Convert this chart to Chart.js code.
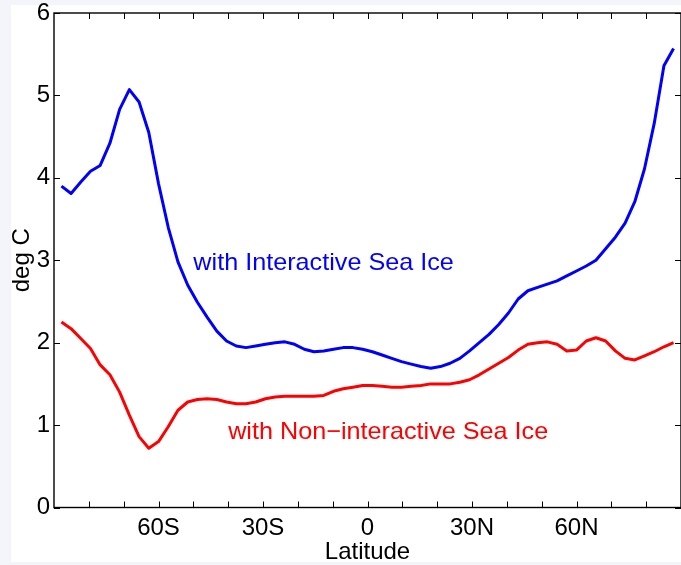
<!DOCTYPE html>
<html>
<head>
<meta charset="utf-8">
<script src="https://cdn.jsdelivr.net/npm/chart.js@4/dist/chart.umd.min.js"></script>
<style>
  html, body { margin: 0; padding: 0; background: #f3f5fb; overflow: hidden; }
  #c { display: block; }
</style>
</head>
<body>
<canvas id="c" width="681" height="565"></canvas>
<script>
// T42 Gaussian latitudes, south to north (degrees)
const latitudes = [
  -87.864, -85.097, -82.313, -79.526, -76.737, -73.948, -71.158, -68.368,
  -65.578, -62.787, -59.997, -57.207, -54.416, -51.626, -48.835, -46.045,
  -43.254, -40.464, -37.673, -34.883, -32.092, -29.301, -26.511, -23.720,
  -20.930, -18.139, -15.348, -12.558, -9.767, -6.977, -4.186, -1.395,
  1.395, 4.186, 6.977, 9.767, 12.558, 15.348, 18.139, 20.930,
  23.720, 26.511, 29.301, 32.092, 34.883, 37.673, 40.464, 43.254,
  46.045, 48.835, 51.626, 54.416, 57.207, 59.997, 62.787, 65.578,
  68.368, 71.158, 73.948, 76.737, 79.526, 82.313, 85.097, 87.864
];

// Zonal-mean warming (deg C), interactive sea ice
const interactiveIce = [
  3.90, 3.81, 3.95, 4.08, 4.15, 4.42, 4.83, 5.07,
  4.92, 4.55, 3.93, 3.40, 2.98, 2.70, 2.49, 2.31,
  2.14, 2.02, 1.96, 1.94, 1.96, 1.98, 2.00, 2.01,
  1.98, 1.92, 1.89, 1.90, 1.92, 1.94, 1.94, 1.92,
  1.89, 1.85, 1.81, 1.77, 1.74, 1.71, 1.69, 1.71,
  1.75, 1.81, 1.90, 2.00, 2.10, 2.22, 2.36, 2.53,
  2.63, 2.67, 2.71, 2.75, 2.81, 2.87, 2.93, 3.00,
  3.14, 3.28, 3.45, 3.71, 4.11, 4.66, 5.36, 5.57
];

// Zonal-mean warming (deg C), non-interactive sea ice
const nonInteractiveIce = [
  2.25, 2.17, 2.05, 1.93, 1.73, 1.61, 1.40, 1.12,
  0.86, 0.72, 0.80, 0.98, 1.18, 1.28, 1.31, 1.32,
  1.31, 1.28, 1.26, 1.26, 1.28, 1.32, 1.34, 1.35,
  1.35, 1.35, 1.35, 1.36, 1.41, 1.44, 1.46, 1.48,
  1.48, 1.47, 1.46, 1.46, 1.47, 1.48, 1.50, 1.50,
  1.50, 1.52, 1.55, 1.61, 1.68, 1.75, 1.82, 1.91,
  1.98, 2.00, 2.01, 1.98, 1.90, 1.91, 2.02, 2.06,
  2.02, 1.90, 1.81, 1.79, 1.84, 1.89, 1.95, 2.00
];

const seriesNames = ['with Interactive Sea Ice', 'with Non\u2212interactive Sea Ice'];
const latTickValues = [-60, -30, 0, 30, 60];
const latTickLabels = ['60S', '30S', '0', '30N', '60N'];
const tempTickValues = [0, 1, 2, 3, 4, 5, 6];

const FONT = { family: '"Liberation Sans", Arial, Helvetica, sans-serif', size: 24 };

// In-plot labels, anchored in data coordinates
const seriesLabels = [
  { text: seriesNames[0], lat: -50.0, value: 2.88, color: '#0000ff' },
  { text: seriesNames[1], lat: -40.0, value: 0.83, color: '#ff0000' }
];
const labelStretch = 1.05;

const figureFrame = {
  id: 'figureFrame',
  beforeDraw(chart) {
    const { ctx, width, height } = chart;
    ctx.save();
    ctx.fillStyle = '#f3f5fb';
    ctx.fillRect(0, 0, width, height);
    ctx.fillStyle = '#ffffff';
    ctx.fillRect(11, 5, width - 11, 557);
    ctx.restore();
  },
  afterDraw(chart) {
    const { ctx, chartArea: a, scales: { x, y } } = chart;
    ctx.save();
    // inward tick marks on all four sides
    ctx.strokeStyle = '#000';
    ctx.lineWidth = 1;
    const tl = 6;
    ctx.beginPath();
    for (let v = x.min + 10; v < x.max; v += 10) {
      const px = Math.round(x.getPixelForValue(v)) + 0.5;
      ctx.moveTo(px, a.bottom); ctx.lineTo(px, a.bottom - tl);
      ctx.moveTo(px, a.top); ctx.lineTo(px, a.top + tl);
    }
    tempTickValues.forEach(v => {
      const py = Math.round(y.getPixelForValue(v)) + 0.5;
      ctx.moveTo(a.left, py); ctx.lineTo(a.left + tl, py);
      ctx.moveTo(a.right, py); ctx.lineTo(a.right - tl, py);
    });
    ctx.stroke();
    // axes box
    ctx.lineWidth = 1.4;
    ctx.strokeRect(a.left, a.top, a.right - a.left, a.bottom - a.top);
    // series labels
    ctx.font = `${FONT.size}px ${FONT.family}`;
    ctx.textAlign = 'left';
    ctx.textBaseline = 'alphabetic';
    seriesLabels.forEach(l => {
      ctx.save();
      ctx.translate(x.getPixelForValue(l.lat), y.getPixelForValue(l.value));
      ctx.scale(labelStretch, 1);
      ctx.fillStyle = l.color;
      ctx.fillText(l.text, 0, 0);
      ctx.restore();
    });
    ctx.restore();
  }
};

Chart.defaults.color = '#000';

new Chart(document.getElementById('c'), {
  type: 'line',
  data: {
    datasets: [
      {
        label: seriesNames[0],
        data: latitudes.map((lat, i) => ({ x: lat, y: interactiveIce[i] })),
        borderColor: '#0000ff',
        borderWidth: 3,
        pointRadius: 0,
        tension: 0,
        borderJoinStyle: 'round',
        fill: false
      },
      {
        label: seriesNames[1],
        data: latitudes.map((lat, i) => ({ x: lat, y: nonInteractiveIce[i] })),
        borderColor: '#ff0000',
        borderWidth: 3,
        pointRadius: 0,
        tension: 0,
        borderJoinStyle: 'round',
        fill: false
      }
    ]
  },
  options: {
    responsive: false,
    animation: false,
    devicePixelRatio: 1,
    layout: { padding: { top: 13, right: 0, left: 0, bottom: 0 } },
    plugins: { legend: { display: false }, tooltip: { enabled: false } },
    scales: {
      x: {
        type: 'linear',
        min: -90,
        max: 90,
        grid: { display: false, drawTicks: false },
        border: { display: false },
        afterBuildTicks(s) { s.ticks = latTickValues.map(v => ({ value: v })); },
        afterFit(s) { s.height = 57.5; s.paddingLeft = 0; s.paddingRight = 0; },
        ticks: {
          autoSkip: false,
          maxRotation: 0,
          padding: 6,
          font: FONT,
          color: '#000',
          callback: v => latTickLabels[latTickValues.indexOf(v)] ?? ''
        },
        title: { display: true, text: 'Latitude', font: FONT, color: '#000', padding: { top: 0, bottom: -2 } }
      },
      y: {
        min: 0,
        max: 6,
        grid: { display: false, drawTicks: false },
        border: { display: false },
        afterBuildTicks(s) { s.ticks = tempTickValues.map(v => ({ value: v })); },
        afterFit(s) { s.width = 54; s.paddingTop = 0; s.paddingBottom = 0; },
        ticks: { padding: 4, font: FONT, color: '#000' },
        title: { display: true, text: 'deg C', font: FONT, color: '#000', padding: { top: 8, bottom: 0 } }
      }
    }
  },
  plugins: [figureFrame]
});
</script>
</body>
</html>
